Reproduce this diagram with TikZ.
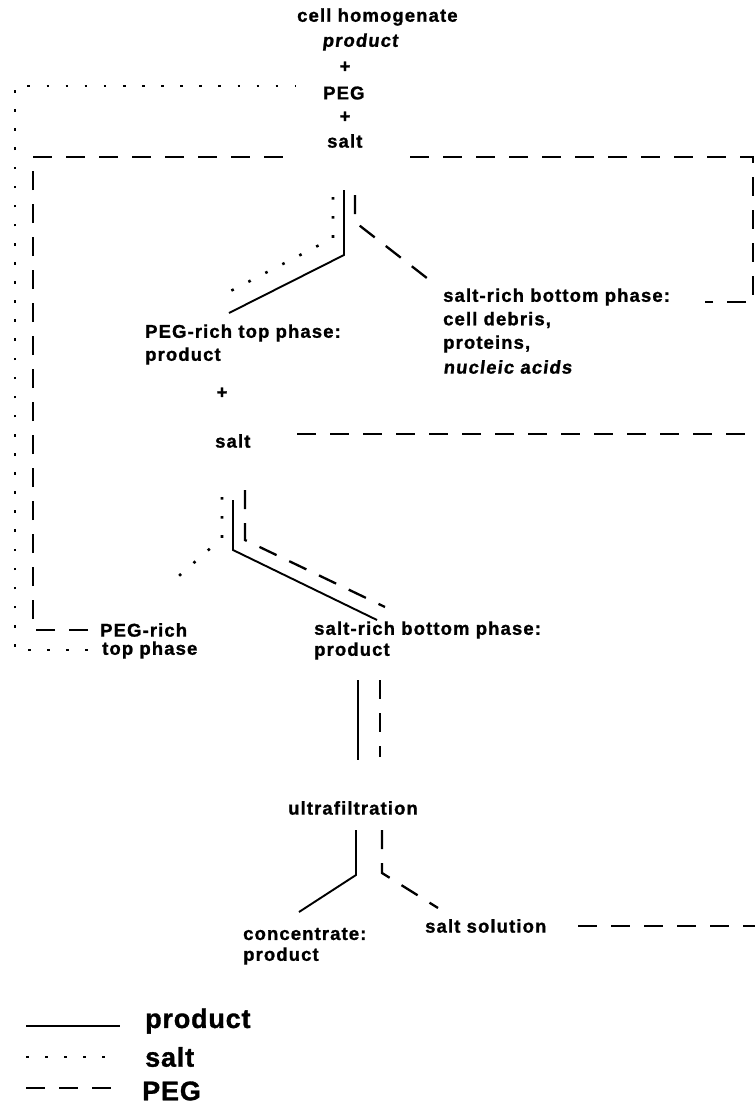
\documentclass[tikz,border=0pt]{standalone}
\usepackage{fontspec}
\newfontfamily\labfont{Liberation Sans}[LetterSpace=6, FakeBold=1.2]
\newfontfamily\slfont{Liberation Sans}[LetterSpace=6, FakeBold=1.2, FakeSlant=0.12]
\newfontfamily\legfont{Liberation Sans}[LetterSpace=3, FakeBold=1.2]
\tikzset{
  lbl/.style={font=\labfont\bfseries\fontsize{18.5}{20}\selectfont, inner sep=0pt, anchor=west},
  slbl/.style={lbl, font=\slfont\bfseries\fontsize{18.5}{20}\selectfont},
  lblc/.style={lbl, anchor=center},
  legl/.style={font=\legfont\bfseries\fontsize{27}{29}\selectfont, inner sep=0pt, anchor=west},
  prodline/.style={line width=1.9pt},
  saltline/.style={line width=2.6pt, dash pattern=on 2.6pt off 16.5pt},
  pegline/.style={line width=2.3pt, dash pattern=on 19pt off 14pt},
}
\begin{document}
\begin{tikzpicture}[x=1pt,y=-1pt]
\useasboundingbox (0,0) rectangle (755,1112);
% ---- top block
\node[lbl] (ch) at (297,17) {cell homogenate};
\node[slbl] (tprod) at (322,42) {product};
\node[lblc] (plus1) at (345,67) {+};
\node[lbl] (peg) at (323,93) {PEG};
\node[lblc] (plus2) at (345,117) {+};
\node[lbl] (tsalt) at (327,141) {salt};
% ---- middle block
\node[lbl] (srb) at (443,297) {salt-rich bottom phase:};
\node[lbl] (cd) at (443,320) {cell debris,};
\node[lbl] (prot) at (443,344) {proteins,};
\node[slbl] (nuc) at (443,367) {nucleic acids};
\node[lbl] (ptp) at (145,333) {PEG-rich top phase:};
\node[lbl] (pprod) at (145,356) {product};
\node[lblc] (plus3) at (222,393) {+};
\node[lbl] (msalt) at (215,441) {salt};
% ---- lower block
\node[lbl] (pegrich) at (100,630) {PEG-rich};
\node[lbl] (topphase) at (102,650) {top phase};
\node[lbl] (srb2) at (314,630) {salt-rich bottom phase:};
\node[lbl] (prod2) at (314,651) {product};
\node[lbl] (uf) at (288,808) {ultrafiltration};
\node[lbl] (conc) at (243,934) {concentrate:};
\node[lbl] (prod3) at (243,956) {product};
\node[lbl] (ss) at (425,926) {salt solution};
% ---- legend
\node[legl] (lp) at (145,1021) {product};
\node[legl] (ls) at (145,1057) {salt};
\node[legl] (lg) at (142,1091) {PEG};

% ---- coordinates
\coordinate (s1) at (295,86);
\coordinate (s2) at (15,86);
\coordinate (s3) at (15,650);
\coordinate (p1) at (290,157);
\coordinate (p2) at (33,157);
\coordinate (p3) at (33,630);
\coordinate (q1) at (410,157);
\coordinate (q2) at (753,157);
\coordinate (q3) at (753,302);
\coordinate (q4) at (705,302);
\coordinate (m1) at (297,434);
\coordinate (m2) at (755,434);
\coordinate (b1) at (578,926);
\coordinate (b2) at (755,926);

% salt recycle (dotted)
\draw[saltline] ([xshift=-14pt]topphase.west) -- (s3) -- (s2) -- (s1);
% PEG recycle (dashed)
\draw[pegline] ([xshift=-12pt]pegrich.west) -- (p3) -- (p2) -- (p1);
\draw[pegline] (q1) -- (q2) -- (q3) -- (q4);
\draw[pegline] (m1) -- (m2);
\draw[pegline] (b1) -- (b2);

% top junction
\coordinate (ta1) at (344,190); \coordinate (ta2) at (344,255); \coordinate (ta3) at (229,313);
\coordinate (tb1) at (333,197); \coordinate (tb2) at (333,238); \coordinate (tb3) at (217,298);
\coordinate (tc1) at (355,195); \coordinate (tc2) at (355,222); \coordinate (tc3) at (432,282);
\draw[prodline] (ta1) -- (ta2) -- (ta3);
\draw[saltline] (tb1) -- (tb2) -- (tb3);
\draw[pegline] (tc1) -- (tc2) -- (tc3);

% middle junction
\coordinate (ma1) at (233,500); \coordinate (ma2) at (233,550); \coordinate (ma3) at (377,620);
\coordinate (mb1) at (222,497); \coordinate (mb2) at (222,538); \coordinate (mb3) at (172,582);
\coordinate (mc1) at (245,490); \coordinate (mc2) at (245,540); \coordinate (mc3) at (385,607);
\draw[prodline] (ma1) -- (ma2) -- (ma3);
\draw[saltline] (mb1) -- (mb2) -- (mb3);
\draw[pegline] (mc1) -- (mc2) -- (mc3);

% to ultrafiltration
\coordinate (va1) at (358,680); \coordinate (va2) at (358,760);
\coordinate (vc1) at (380,680); \coordinate (vc2) at (380,757);
\draw[prodline] (va1) -- (va2);
\draw[pegline] (vc1) -- (vc2);

% ultrafiltration split
\coordinate (ua1) at (356,830); \coordinate (ua2) at (356,875); \coordinate (ua3) at (299,912);
\coordinate (uc1) at (382,830); \coordinate (uc2) at (382,873); \coordinate (uc3) at (438,908);
\draw[prodline] (ua1) -- (ua2) -- (ua3);
\draw[pegline] (uc1) -- (uc2) -- (uc3);

% legend lines
\coordinate (l1a) at (26,1026); \coordinate (l1b) at (120,1026);
\coordinate (l2a) at (26,1057); \coordinate (l2b) at (120,1057);
\coordinate (l3a) at (26,1088); \coordinate (l3b) at (125,1088);
\draw[prodline] (l1a) -- (l1b);
\draw[saltline] (l2a) -- (l2b);
\draw[pegline] (l3a) -- (l3b);
\end{tikzpicture}
\end{document}
